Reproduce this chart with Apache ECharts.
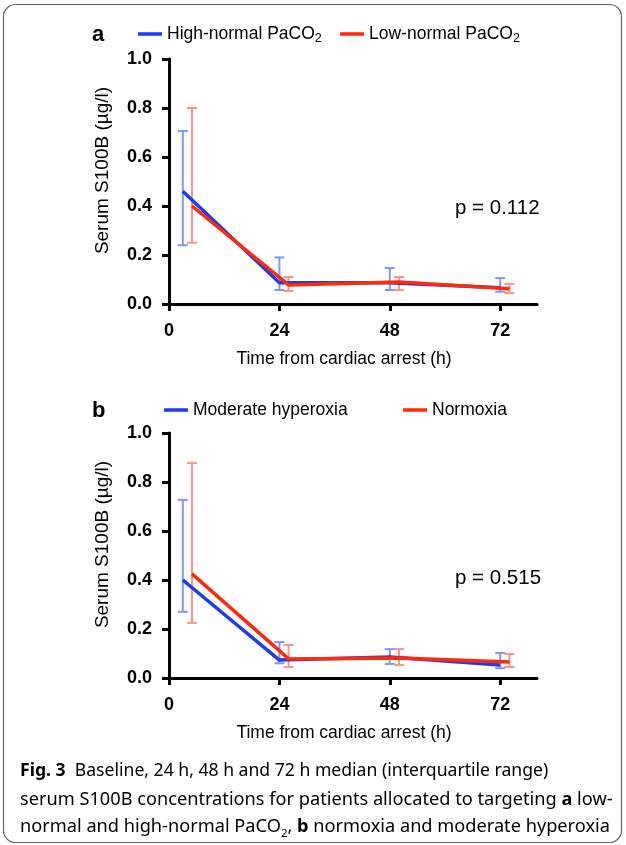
<!DOCTYPE html>
<html>
<head>
<meta charset="utf-8">
<script src="https://cdn.jsdelivr.net/npm/echarts@6/dist/echarts.min.js"></script>
<style>
  html, body { margin: 0; padding: 0; background: #fff; }
  #chart { width: 626px; height: 845px; }
</style>
</head>
<body>
<div id="chart"></div>
<script>
// x positions (h) — the second group is drawn slightly shifted, as in the figure
const blueHours = [3, 24, 48, 72];
const redHours = [5, 26, 50, 74];
const hourTicks = [0, 24, 48, 72];

// panel a: PaCO2
const highMedianA = [0.46, 0.087, 0.087, 0.066];
const highLowA = [0.24, 0.057, 0.057, 0.05];
const highHighA = [0.706, 0.19, 0.147, 0.106];
const lowMedianA = [0.40, 0.078, 0.09, 0.062];
const lowLowA = [0.25, 0.053, 0.057, 0.045];
const lowHighA = [0.80, 0.11, 0.11, 0.082];

// panel b: oxygen
const hyperMedianB = [0.40, 0.073, 0.086, 0.053];
const hyperLowB = [0.27, 0.06, 0.057, 0.04];
const hyperHighB = [0.727, 0.147, 0.118, 0.102];
const normoMedianB = [0.425, 0.078, 0.082, 0.065];
const normoLowB = [0.225, 0.045, 0.053, 0.045];
const normoHighB = [0.877, 0.135, 0.118, 0.098];

const FONT = "Arial, 'Liberation Sans', Helvetica, sans-serif";
const CAPFONT = "'Noto Sans', sans-serif";
const BLUE = "#1c3cf2";
const RED = "#ff2a0a";
const BLUE_ERR = "#7d98f6";
const RED_ERR = "#f7968b";

let chart = echarts.init(document.getElementById("chart"));

function pair(xs, ys) {
  return xs.map((x, i) => [x, ys[i]]);
}

function lineSeries(name, xs, ys, color, idx) {
  return {
    name: name,
    type: "line",
    xAxisIndex: idx,
    yAxisIndex: idx,
    symbol: "none",
    z: 3,
    lineStyle: { color: color, width: 3.5 },
    itemStyle: { color: color },
    data: pair(xs, ys)
  };
}

function errorSeries(name, xs, lows, highs, color, idx) {
  return {
    name: name,
    type: "custom",
    xAxisIndex: idx,
    yAxisIndex: idx,
    silent: true,
    z: 2,
    encode: { x: 0, y: [1, 2] },
    data: xs.map((x, i) => [x, lows[i], highs[i]]),
    renderItem: function (params, api) {
      let lo = api.coord([api.value(0), api.value(1)]);
      let hi = api.coord([api.value(0), api.value(2)]);
      let w = 5;
      let st = { stroke: color, lineWidth: 2 };
      return {
        type: "group",
        children: [
          { type: "line", shape: { x1: lo[0], y1: lo[1], x2: hi[0], y2: hi[1] }, style: st },
          { type: "line", shape: { x1: hi[0] - w, y1: hi[1], x2: hi[0] + w, y2: hi[1] }, style: st },
          { type: "line", shape: { x1: lo[0] - w, y1: lo[1], x2: lo[0] + w, y2: lo[1] }, style: st }
        ]
      };
    }
  };
}

// 图例：文字带下标
const legendRich = {
  m: { fontFamily: FONT, fontSize: 17.5, color: "#000", lineHeight: 22 },
  s: { fontFamily: FONT, fontSize: 12.5, color: "#000", lineHeight: 13, verticalAlign: "bottom" }
};
const legendNames = {
  "High-normal PaCO2": "{m|High-normal PaCO}{s|2}",
  "Low-normal PaCO2": "{m|Low-normal PaCO}{s|2}",
  "Moderate hyperoxia": "{m|Moderate hyperoxia}",
  "Normoxia": "{m|Normoxia}"
};

function legendAt(name, left, top) {
  return {
    data: [name],
    left: left,
    top: top,
    icon: "rect",
    itemWidth: 24,
    itemHeight: 3.5,
    padding: 0,
    selectedMode: false,
    formatter: n => legendNames[n],
    textStyle: { rich: legendRich }
  };
}

function xAxisFor(idx) {
  return {
    type: "value",
    gridIndex: idx,
    min: 0,
    max: 80,
    name: "Time from cardiac arrest (h)",
    nameLocation: "middle",
    nameGap: 46,
    nameTextStyle: { fontFamily: FONT, fontSize: 17.5, color: "#000", padding: [0, 18, 0, 0] },
    axisLine: { show: true, lineStyle: { color: "#000", width: 3 } },
    axisTick: { show: true, length: 7, customValues: hourTicks, lineStyle: { color: "#000", width: 3 } },
    axisLabel: { customValues: hourTicks, margin: 18, fontFamily: FONT, fontSize: 18, fontWeight: "bold", color: "#000" },
    splitLine: { show: false }
  };
}

function yAxisFor(idx) {
  return {
    type: "value",
    gridIndex: idx,
    min: 0,
    max: 1,
    interval: 0.2,
    name: "Serum S100B (µg/l)",
    nameLocation: "middle",
    nameGap: 57,
    nameTextStyle: { fontFamily: FONT, fontSize: 19, color: "#000", padding: [0, 0, 0, 22] },
    axisLine: { show: true, lineStyle: { color: "#000", width: 3 } },
    axisTick: { show: true, length: 7, lineStyle: { color: "#000", width: 3 } },
    axisLabel: { margin: 17, fontFamily: FONT, fontSize: 18, fontWeight: "bold", color: "#000",
      formatter: v => v.toFixed(1) },
    splitLine: { show: false }
  };
}

const captionRich = {
  t: { fontFamily: CAPFONT, fontSize: 18.2, color: "#222", lineHeight: 27 },
  b: { fontFamily: CAPFONT, fontSize: 18.2, fontWeight: "bold", color: "#222", lineHeight: 27 },
  s: { fontFamily: CAPFONT, fontSize: 11.5, color: "#222", lineHeight: 20, verticalAlign: "bottom" }
};
const captionRich1 = {
  t: { fontFamily: CAPFONT, fontSize: 17.6, color: "#222", lineHeight: 28 },
  b: { fontFamily: CAPFONT, fontSize: 17.6, fontWeight: "bold", color: "#222", lineHeight: 28 }
};

chart.setOption({
  animation: false,
  grid: [
    { left: 169, top: 59, width: 368, height: 245 },
    { left: 169, top: 433, width: 368, height: 245 }
  ],
  legend: [
    legendAt("High-normal PaCO2", 138, 25),
    legendAt("Low-normal PaCO2", 340, 25),
    legendAt("Moderate hyperoxia", 164, 401),
    legendAt("Normoxia", 403, 401)
  ],
  xAxis: [xAxisFor(0), xAxisFor(1)],
  yAxis: [yAxisFor(0), yAxisFor(1)],
  series: [
    errorSeries("errHighA", blueHours, highLowA, highHighA, BLUE_ERR, 0),
    errorSeries("errLowA", redHours, lowLowA, lowHighA, RED_ERR, 0),
    lineSeries("High-normal PaCO2", blueHours, highMedianA, BLUE, 0),
    lineSeries("Low-normal PaCO2", redHours, lowMedianA, RED, 0),
    errorSeries("errHyperB", blueHours, hyperLowB, hyperHighB, BLUE_ERR, 1),
    errorSeries("errNormoB", redHours, normoLowB, normoHighB, RED_ERR, 1),
    lineSeries("Moderate hyperoxia", blueHours, hyperMedianB, BLUE, 1),
    lineSeries("Normoxia", redHours, normoMedianB, RED, 1)
  ],
  graphic: [
    // 外框
    { type: "rect", shape: { x: 3.5, y: 4.5, width: 618, height: 838, r: 12 },
      style: { fill: "none", stroke: "#666", lineWidth: 1.2 }, silent: true },
    { type: "text", x: 92, y: 35, style: { text: "a", font: "bold 22px " + FONT, fill: "#000", verticalAlign: "middle" } },
    { type: "text", x: 92, y: 411, style: { text: "b", font: "bold 22px " + FONT, fill: "#000", verticalAlign: "middle" } },
    { type: "text", x: 455, y: 208, style: { text: "p = 0.112", font: "20.5px " + FONT, fill: "#000", verticalAlign: "middle" } },
    { type: "text", x: 455, y: 578, style: { text: "p = 0.515", font: "20.5px " + FONT, fill: "#000", verticalAlign: "middle" } },
    // 图注
    { type: "text", x: 20, y: 757,
      style: {
        text: "{b|Fig. 3}{t|  Baseline, 24 h, 48 h and 72 h median (interquartile range)}",
        rich: captionRich1
      }
    },
    { type: "text", x: 20, y: 786,
      style: {
        text: "{t|serum S100B concentrations for patients allocated to targeting }{b|a}{t| low-}\n" +
              "{t|normal and high-normal PaCO}{s|2}{t|, }{b|b}{t| normoxia and moderate hyperoxia}",
        rich: captionRich
      }
    }
  ]
});
</script>
</body>
</html>
